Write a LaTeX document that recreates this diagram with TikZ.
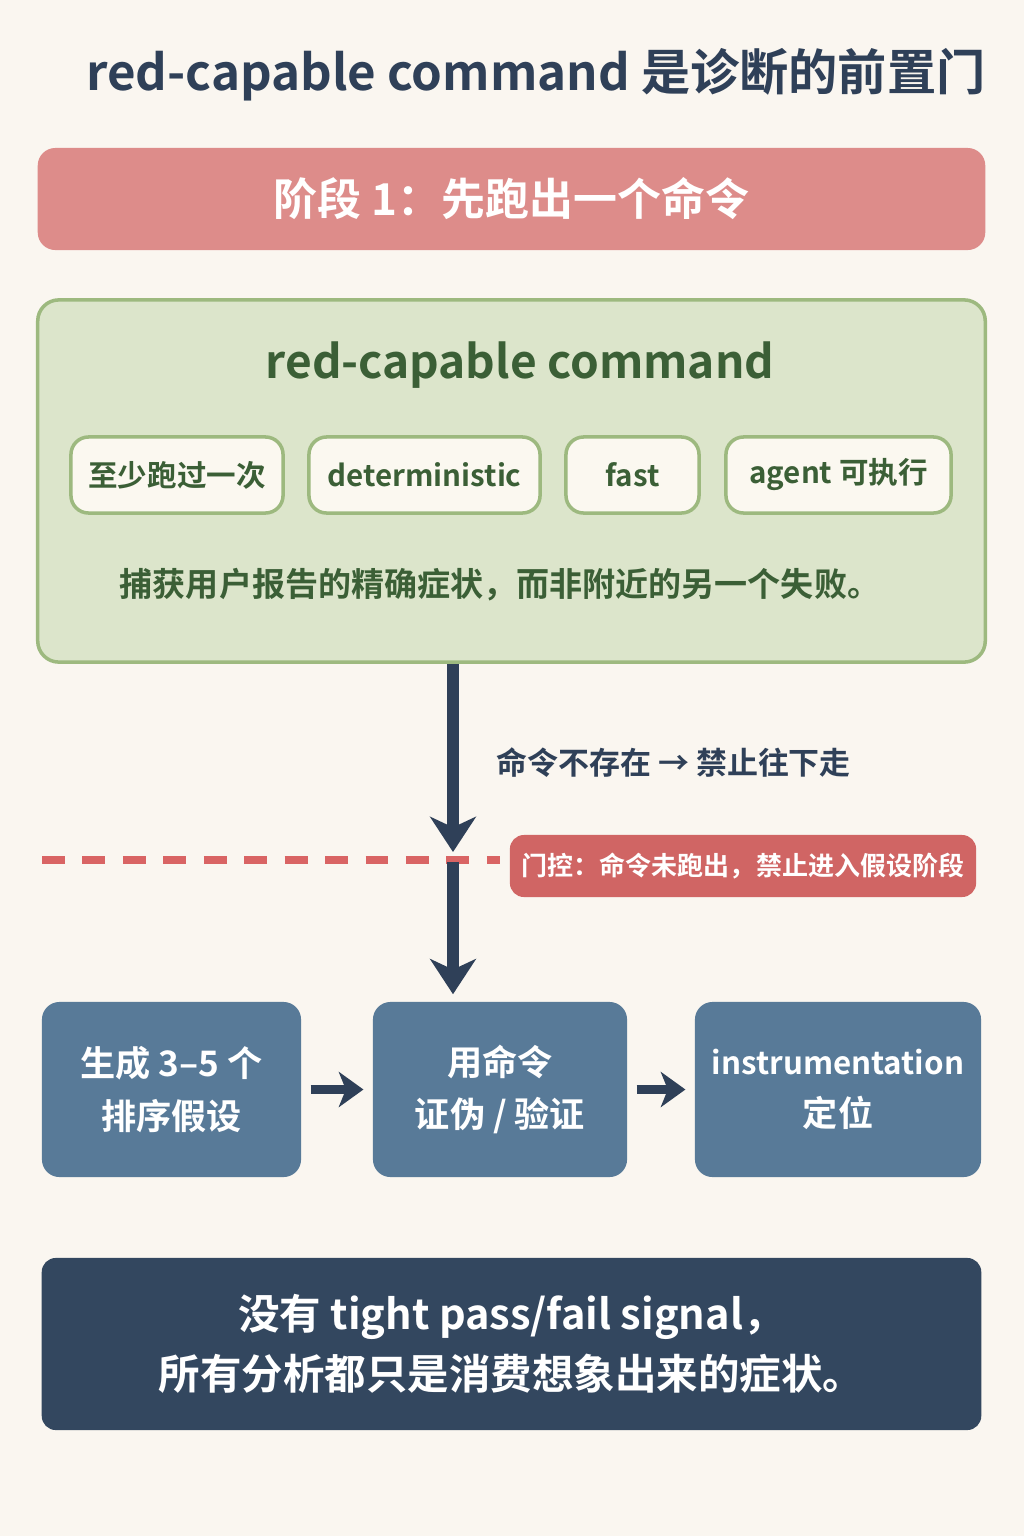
\documentclass[tikz,border=0pt]{standalone}
\usepackage{fontspec}
\setmainfont{Noto Sans CJK SC}[UprightFont=* Bold]
\usepackage{tikz}
\usetikzlibrary{arrows.meta}

\definecolor{bg}{HTML}{FAF6F0}
\definecolor{navy}{HTML}{2F4058}
\definecolor{stagered}{HTML}{DD8C8A}
\definecolor{gatered}{HTML}{D06564}
\definecolor{dashred}{HTML}{D96464}
\definecolor{greenfill}{HTML}{DCE5CB}
\definecolor{greenline}{HTML}{9DB97F}
\definecolor{greentext}{HTML}{3B5F36}
\definecolor{pillfill}{HTML}{FBF8F0}
\definecolor{stepblue}{HTML}{587A98}
\definecolor{darkbox}{HTML}{33475F}

\tikzset{
  pill/.style={draw=greenline, line width=1pt, fill=pillfill, rounded corners=5pt,
    minimum height=0.76cm, inner xsep=2pt, text=greentext, font=\fontsize{8.4}{10}\selectfont},
  stepbox/.style={fill=stepblue, rounded corners=5pt, minimum height=1.75cm, inner xsep=2pt,
    text=white, align=center, font=\fontsize{10}{15}\selectfont},
  bigarrow/.style={draw=navy, line width=3.4pt, -{Stealth[length=10pt,width=13pt,inset=3pt]}},
  smallarrow/.style={draw=navy, line width=2.8pt, -{Stealth[length=7pt,width=10pt,inset=2pt]}}
}

\begin{document}
\begin{tikzpicture}[x=0.01cm, y=-0.01cm]
\fill[bg] (0,0) rectangle (1024,1536);
\useasboundingbox (0,0) rectangle (1024,1536);

\node[text=navy, font=\fontsize{14}{16}\selectfont] (title) at (536,75) {red-capable command 是诊断的前置门};

\node[fill=stagered, rounded corners=5pt, minimum width=9.47cm, minimum height=1.02cm,
  text=white, font=\fontsize{12.5}{14}\selectfont] (stage) at (511.5,199) {阶段 1：先跑出一个命令};

\node[draw=greenline, line width=1pt, fill=greenfill, rounded corners=6pt,
  minimum width=9.47cm, minimum height=3.62cm] (cmdbox) at (511.5,481) {};
\node[text=greentext, font=\fontsize{13.1}{15}\selectfont] (cmdtitle) at (520,365) {red-capable command};
\node[pill, minimum width=2.12cm] (p1) at (177,475) {至少跑过一次};
\node[pill, minimum width=2.31cm] (p2) at (424.5,475) {deterministic};
\node[pill, minimum width=1.33cm] (p3) at (632.5,475) {fast};
\node[pill, minimum width=2.25cm] (p4) at (838.5,475) {agent 可执行};
\node[text=greentext, font=\fontsize{9.4}{11}\selectfont] (claim) at (500,585) {捕获用户报告的精确症状，而非附近的另一个失败。};

\coordinate (stop) at (453,852);
\coordinate (go) at (453,862);
\coordinate (dashL) at (42,860);
\coordinate (dashR) at (500,860);
\draw[dashred, line width=2.3pt, dash pattern=on 6.5pt off 5pt] (dashL) -- (dashR);
\draw[bigarrow] (cmdbox.south -| stop) -- (stop);

\node[text=navy, font=\fontsize{8.8}{10}\selectfont, anchor=west] (nocmd) at (484,763) {命令不存在 → 禁止往下走};
\node[fill=gatered, rounded corners=4pt, minimum width=4.66cm, minimum height=0.62cm,
  text=white, font=\fontsize{7.4}{9}\selectfont] (gate) at (743,866) {门控：命令未跑出，禁止进入假设阶段};

\node[stepbox, minimum width=2.59cm] (hyp) at (171.5,1089.5) {生成 3–5 个\\排序假设};
\node[stepbox, minimum width=2.54cm] (test) at (500,1089.5) {用命令\\证伪 / 验证};
\node[stepbox, minimum width=2.86cm] (locate) at (838,1089.5) {{\fontsize{8.9}{15}\selectfont instrumentation}\\定位};

\draw[bigarrow] (go) -- ([yshift=2pt]test.north -| go);
\draw[smallarrow] ([xshift=2.5pt]hyp.east) -- ([xshift=-2.5pt]test.west);
\draw[smallarrow] ([xshift=2.5pt]test.east) -- ([xshift=-2.5pt]locate.west);

\node[fill=darkbox, rounded corners=4pt, minimum width=9.39cm, minimum height=1.72cm,
  text=white, align=center, font=\fontsize{11.8}{17}\selectfont] (verdict) at (511.5,1344)
  {没有 tight pass/fail signal，\\所有分析都只是消费想象出来的症状。};
\end{tikzpicture}
\end{document}
